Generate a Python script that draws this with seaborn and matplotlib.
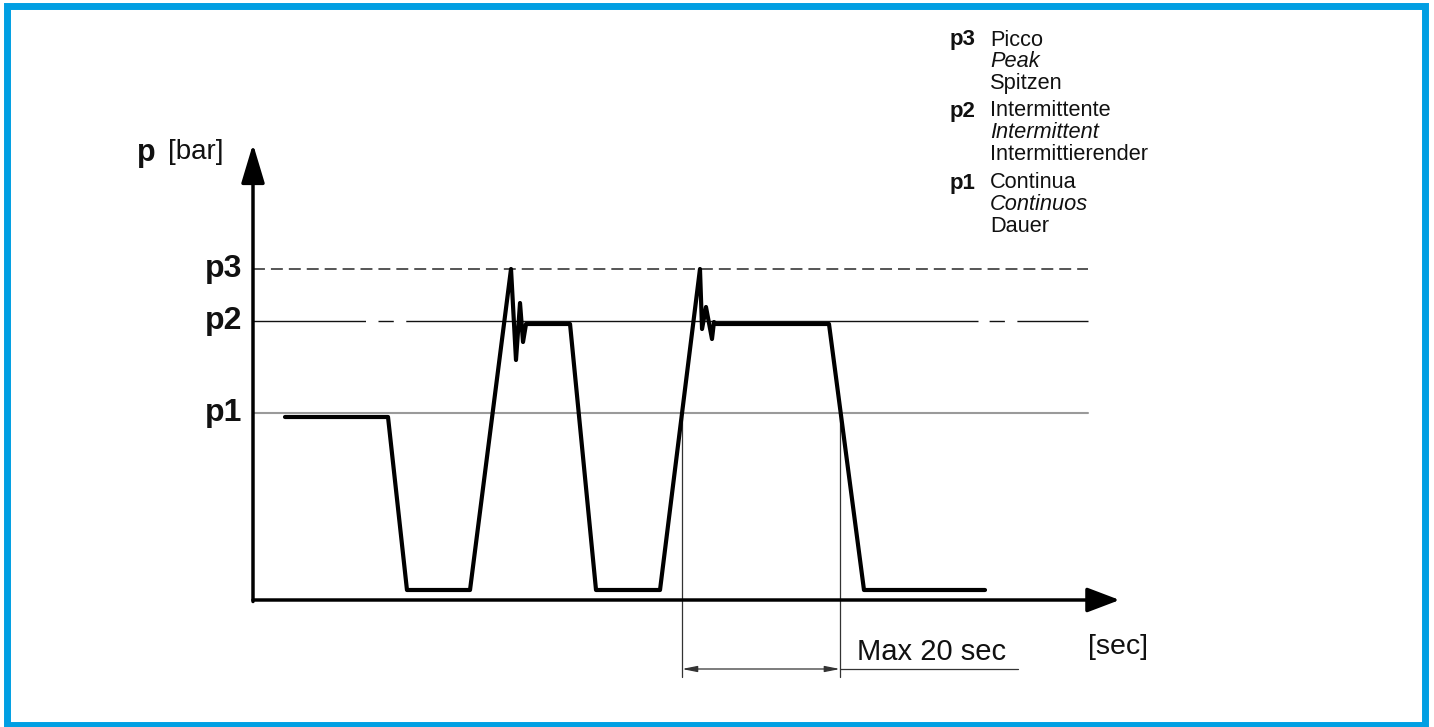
import matplotlib
matplotlib.use("Agg")
import matplotlib.pyplot as plt
import seaborn as sns
import pandas as pd
from matplotlib.patches import Rectangle

# ---------------- data ----------------
# time axis in seconds, pressure in arbitrary units (p1 / p2 / p3 levels)
level_names = ["p1", "p2", "p3"]
level_values = [18.7, 27.9, 33.1]

curve_time = [4.05, 17.09, 19.49, 27.47, 32.66, 33.29, 33.80, 34.18, 34.56,
              40.13, 43.42, 51.52, 56.58, 56.84, 57.34, 58.10, 58.35, 58.61,
              72.91, 77.34, 92.66]
curve_pressure = [18.3, 18.3, 1.0, 1.0, 33.1, 24.0, 29.7, 25.8, 27.6,
                  27.6, 1.0, 1.0, 33.1, 27.1, 29.3, 26.1, 27.8, 27.6,
                  27.6, 1.0, 1.0]

dim_start = 54.3      # rising edge of 2nd pulse crosses p1
dim_length = 20.0     # "Max 20 sec"
ref_end = 105.7       # end of reference lines
x_axis_end = 109.7
y_axis_end = 45.6

legend_keys = ["p3", "p2", "p1"]
legend_lines = [["Picco", "Peak", "Spitzen"],
                ["Intermittente", "Intermittent", "Intermittierender"],
                ["Continua", "Continuos", "Dauer"]]

# ---------------- figure ----------------
sns.set_theme(style="white")
plt.rcParams["font.family"] = ["Liberation Sans", "DejaVu Sans"]
plt.rcParams["lines.scale_dashes"] = False

W, H = 1434, 727
fig = plt.figure(figsize=(W / 100, H / 100), dpi=100)
ax = fig.add_axes([0, 0, 1, 1])
PXS = 7.9    # px per second
PXP = 10.0   # px per pressure unit
X0, Y0 = 253, 600
ax.set_xlim((0 - X0) / PXS, (W - X0) / PXS)
ax.set_ylim((Y0 - H) / PXP, (Y0 - 0) / PXP)
ax.axis("off")

# blue frame
fig.patches.append(Rectangle((6.7 / W, 1 - 724.5 / H), (1425 - 6.7) / W, (724.5 - 5.5) / H,
                             transform=fig.transFigure, fill=False,
                             edgecolor="#009FE3", linewidth=5.0, zorder=0))

# reference levels
p1, p2, p3 = level_values
ax.plot([0, ref_end], [p1, p1], color="#9a9a9a", lw=1.5, zorder=1)
ax.plot([0, ref_end], [p2, p2], color="#111111", lw=1.0, zorder=1,
        linestyle=(0, (81, 9, 11, 9, 412, 8, 11, 9, 60, 100)))
ax.plot([0, ref_end], [p3, p3], color="#555555", lw=1.4, zorder=1,
        linestyle=(0, (8.6, 4.3)))

# pressure curve
df = pd.DataFrame({"t": curve_time, "p": curve_pressure})
sns.lineplot(data=df, x="t", y="p", sort=False, estimator=None, ax=ax,
             color="black", lw=3.0, solid_joinstyle="round",
             solid_capstyle="round", zorder=3)
ax.set_xlabel("")
ax.set_ylabel("")

# axes with arrows
ax.annotate("", xy=(x_axis_end, 0), xytext=(0, 0),
            arrowprops=dict(arrowstyle="-|>,head_length=1.0,head_width=0.38",
                            mutation_scale=20, lw=2.5, color="black",
                            shrinkA=0, shrinkB=0), zorder=4)
ax.annotate("", xy=(0, y_axis_end), xytext=(0, -0.15),
            arrowprops=dict(arrowstyle="-|>,head_length=1.2,head_width=0.36",
                            mutation_scale=20, lw=2.5, color="black",
                            shrinkA=0, shrinkB=0), zorder=4)

# dimension lines
dim_y = (Y0 - 669) / PXP
vline_bottom = (Y0 - 677) / PXP
for xv in (dim_start, dim_start + dim_length):
    ax.plot([xv, xv], [p1, vline_bottom], color="#333333", lw=0.9, zorder=2)
ax.annotate("", xy=(dim_start + dim_length, dim_y), xytext=(dim_start, dim_y),
            arrowprops=dict(arrowstyle="<|-|>,head_length=0.9,head_width=0.18",
                            mutation_scale=10, lw=0.9, color="#333333",
                            shrinkA=0, shrinkB=0))
ax.plot([dim_start + dim_length, (1018 - X0) / PXS], [dim_y, dim_y],
        color="#333333", lw=0.9)
ax.text((857 - X0) / PXS, (Y0 - 652) / PXP, "Max 20 sec", fontsize=21,
        ha="left", va="center", color="#111111")
ax.text((1088 - X0) / PXS, (Y0 - 647) / PXP, "[sec]", fontsize=20.5,
        ha="left", va="center", color="#111111")

# y-axis labels
for name, val in zip(level_names, level_values):
    ax.text((242 - X0) / PXS, val, name, fontsize=23, fontweight="bold",
            ha="right", va="center", color="#111111")
ax.text((137 - X0) / PXS, (Y0 - 153) / PXP, "p", fontsize=22, fontweight="bold",
        ha="left", va="center", color="#111111")
ax.text((168 - X0) / PXS, (Y0 - 152) / PXP, "[bar]", fontsize=20,
        ha="left", va="center", color="#111111")

# legend block
block_top = [40, 111, 183]
line_gap = 21.7
styles = ["normal", "italic", "normal"]
for key, lines, top in zip(legend_keys, legend_lines, block_top):
    ax.text((950 - X0) / PXS, (Y0 - top) / PXP, key, fontsize=16,
            fontweight="bold", ha="left", va="center", color="#111111")
    for i, (txt, st) in enumerate(zip(lines, styles)):
        ax.text((990 - X0) / PXS, (Y0 - top - i * line_gap) / PXP, txt,
                fontsize=15.7, fontstyle=st, ha="left", va="center",
                color="#111111")

fig.savefig("out.png", dpi=100)
